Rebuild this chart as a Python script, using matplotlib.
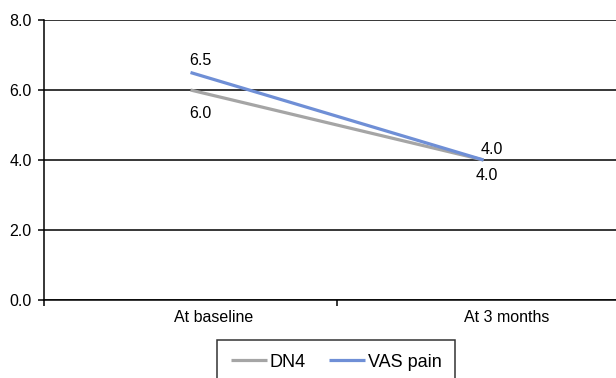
import matplotlib
matplotlib.use("Agg")
import matplotlib.pyplot as plt
import matplotlib.transforms as mtransforms

plt.rcParams["font.family"] = ["Liberation Sans", "DejaVu Sans"]

categories = ["At baseline", "At 3 months"]
dn4 = [6.0, 4.0]
vas_pain = [6.5, 4.0]
yticks = [0.0, 2.0, 4.0, 6.0, 8.0]

GREY = "#a5a5a5"
BLUE = "#6f8fd6"

fig = plt.figure(figsize=(6.16, 3.78), dpi=100)
ax = fig.add_axes([44 / 616, 1 - 300 / 378, 586 / 616, 280 / 378])

x = list(range(len(categories)))
ax.plot(x, dn4, color=GREY, linewidth=2.3, label="DN4", zorder=3,
        solid_capstyle="butt")
ax.plot(x, vas_pain, color=BLUE, linewidth=2.3, label="VAS pain", zorder=4,
        solid_capstyle="butt")

# value labels (offsets in pixels)
label_offsets_vas = [(10, 12), (8, 11)]
label_offsets_dn4 = [(10, -23), (3, -15)]
for i in x:
    ax.annotate(f"{vas_pain[i]:.1f}", (i, vas_pain[i]), textcoords="offset pixels",
                xytext=label_offsets_vas[i], ha="center", va="center", fontsize=11.5)
    ax.annotate(f"{dn4[i]:.1f}", (i, dn4[i]), textcoords="offset pixels",
                xytext=label_offsets_dn4[i], ha="center", va="center", fontsize=11.5)

ax.set_xlim(-0.5, len(categories) - 0.5)
ax.set_ylim(0, 8)
ax.set_yticks(yticks)
ax.set_yticklabels([f"{v:.1f}" for v in yticks], fontsize=11.5)
ax.yaxis.grid(True, color="black", linewidth=1.1)
ax.set_axisbelow(True)

# category boundaries as major ticks, labels on minor ticks
ax.set_xticks([i - 0.5 for i in range(len(categories) + 1)])
ax.set_xticklabels([])
ax.set_xticks(x, minor=True)
ax.set_xticklabels(categories, minor=True, fontsize=11.5)
ax.tick_params(axis="x", which="major", direction="out", length=4, width=1.1)
ax.tick_params(axis="x", which="minor", length=0, pad=7)
ax.tick_params(axis="y", direction="out", length=4, width=1.1, pad=5)
shift = mtransforms.ScaledTranslation(23 / 100, 0, fig.dpi_scale_trans)
for lbl in ax.get_xticklabels(minor=True):
    lbl.set_transform(lbl.get_transform() + shift)

for side in ["top", "right"]:
    ax.spines[side].set_visible(False)
for side in ["left", "bottom"]:
    ax.spines[side].set_color("black")
    ax.spines[side].set_linewidth(1.1)

leg = fig.legend(loc="upper left", bbox_to_anchor=(217 / 616, 1 - 340 / 378),
                 ncol=2, fontsize=13, frameon=True, fancybox=False,
                 handlelength=2.0, handletextpad=0.15, columnspacing=1.3,
                 borderpad=0.75, borderaxespad=0)
leg.get_frame().set_edgecolor("black")
leg.get_frame().set_linewidth(1.1)

fig.savefig("out.png", dpi=100)
